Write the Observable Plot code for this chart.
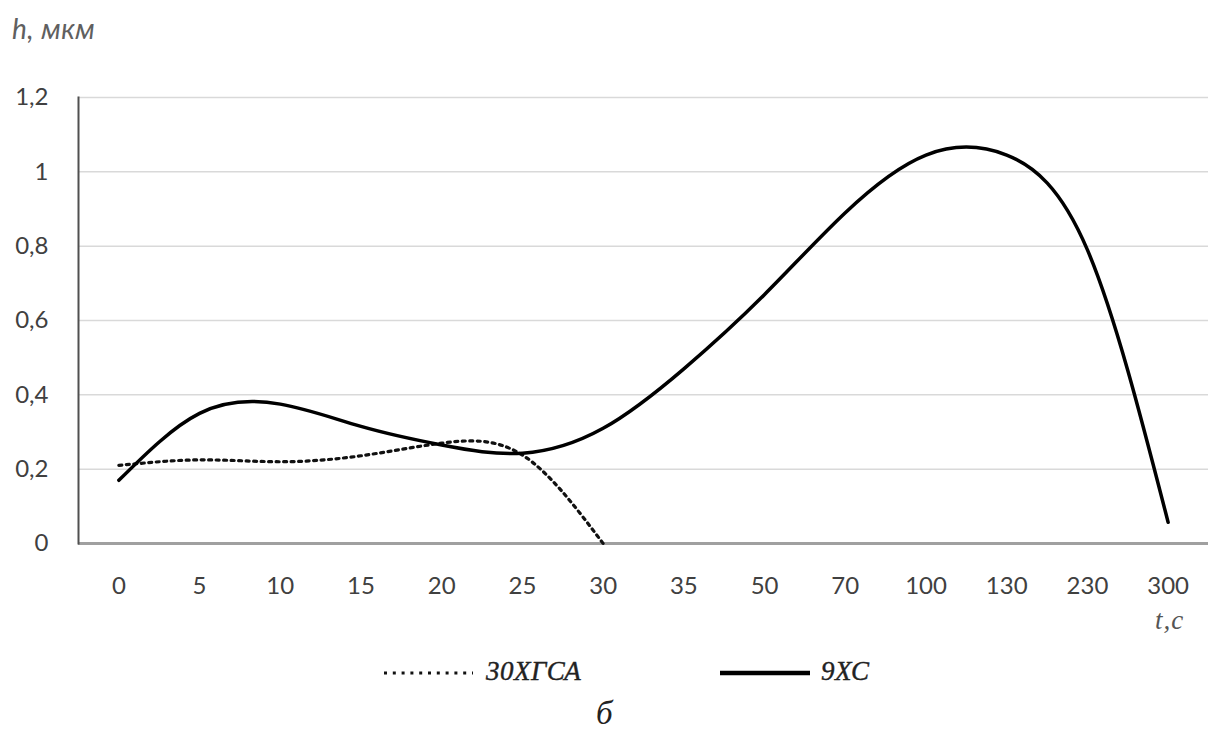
<!DOCTYPE html>
<html>
<head>
<meta charset="utf-8">
<script src="https://cdn.jsdelivr.net/npm/d3@7"></script>
<script src="https://cdn.jsdelivr.net/npm/@observablehq/plot@0.6"></script>
<style>
  html, body { margin: 0; padding: 0; background: #fff; }
  #wrap { position: relative; width: 1211px; height: 735px; overflow: hidden; }
  #ytitle { position: absolute; left: 12px; top: 11px; font-family: Lato, "Open Sans", sans-serif; font-style: italic; font-size: 28px; color: #606060; letter-spacing: 0.5px; }
  #chart { position: absolute; left: 0; top: 60px; }
  .serif { font-family: "Liberation Serif", Tinos, "Times New Roman", "DejaVu Serif", serif; font-style: italic; }
  #xtitle { position: absolute; left: 1155px; top: 605px; font-size: 27px; color: #555; letter-spacing: 1px; }
  #legend { position: absolute; left: 0; top: 655px; width: 1211px; height: 36px; color: #222; }
  .leg { position: absolute; top: 0; height: 36px; }
  .leg svg { position: absolute; left: 0; top: 13px; }
  .leg span { position: absolute; top: 1px; white-space: nowrap; font-size: 27px; letter-spacing: 0.5px; -webkit-text-stroke: 0.4px #222; }
  #caption { position: absolute; left: 596px; top: 695px; font-size: 33px; color: #222; }
</style>
</head>
<body>
<div id="wrap">
  <div id="ytitle">h, мкм</div>
  <div id="chart"></div>
  <div id="xtitle" class="serif">t,c</div>
  <div id="legend"></div>
  <div id="caption" class="serif">б</div>
</div>
<script>
const categories = ["0","5","10","15","20","25","30","35","50","70","100","130","230","300"];
const h30XGSA = [0.21, 0.225, 0.22, 0.236, 0.27, 0.238, 0.0];
const h9XC = [0.17, 0.35, 0.375, 0.315, 0.265, 0.243, 0.31, 0.47, 0.67, 0.89, 1.045, 1.045, 0.79, 0.057];
const yTicks = [0, 0.2, 0.4, 0.6, 0.8, 1, 1.2];
const seriesNames = ["30ХГСА", "9ХС"];

const rows30 = h30XGSA.map((v, i) => ({t: categories[i], h: v}));
const rows9 = h9XC.map((v, i) => ({t: categories[i], h: v}));

const fmt = d => String(d).replace(".", ",");

const chart = Plot.plot({
  width: 1211,
  height: 585,
  marginLeft: 78,
  marginRight: 3,
  marginTop: 37,
  marginBottom: 102,
  style: { fontFamily: "Lato, 'Open Sans', sans-serif", fontSize: "24px", color: "#404040", background: "#fff" },
  x: { type: "point", domain: categories, padding: 0.5, round: false },
  y: { domain: [0, 1.2] },
  marks: [
    Plot.gridY(yTicks, { stroke: "#d9d9d9", strokeOpacity: 1, strokeWidth: 1.5 }),
    Plot.axisY(yTicks, { tickSize: 0, tickPadding: 30, tickFormat: fmt, label: null, fontSize: 24 }),
    Plot.axisX({ tickSize: 0, tickPadding: 33, label: null, fontSize: 24 }),
    Plot.ruleY([0], { stroke: "#a0a0a0", strokeWidth: 3 }),
    Plot.frame({ anchor: "left", stroke: "#505050", strokeWidth: 2 }),
    Plot.line(rows30, { x: "t", y: "h", curve: "natural", stroke: "#111", strokeWidth: 3.2, strokeDasharray: "3 4.5" }),
    Plot.line(rows9, { x: "t", y: "h", curve: "natural", stroke: "#000", strokeWidth: 3.5 })
  ]
});
document.getElementById("chart").appendChild(chart);

const legend = document.getElementById("legend");
const legItems = [
  { name: seriesNames[0], left: 384, dash: "3 5.8", sw: 3.2, color: "#111", w: 89, textLeft: 102 },
  { name: seriesNames[1], left: 720, dash: null, sw: 4.5, color: "#000", w: 90, textLeft: 101 }
];
legItems.forEach(it => {
  const div = document.createElement("div");
  div.className = "leg";
  div.style.left = it.left + "px";
  const ns = "http://www.w3.org/2000/svg";
  const s = document.createElementNS(ns, "svg");
  s.setAttribute("width", it.w);
  s.setAttribute("height", 10);
  const l = document.createElementNS(ns, "line");
  l.setAttribute("x1", 0); l.setAttribute("x2", it.w);
  l.setAttribute("y1", 5); l.setAttribute("y2", 5);
  l.setAttribute("stroke", it.color);
  l.setAttribute("stroke-width", it.sw);
  if (it.dash) l.setAttribute("stroke-dasharray", it.dash);
  s.appendChild(l);
  div.appendChild(s);
  const sp = document.createElement("span");
  sp.className = "serif";
  sp.textContent = it.name;
  sp.style.left = it.textLeft + "px";
  div.appendChild(sp);
  legend.appendChild(div);
});
</script>
</body>
</html>
